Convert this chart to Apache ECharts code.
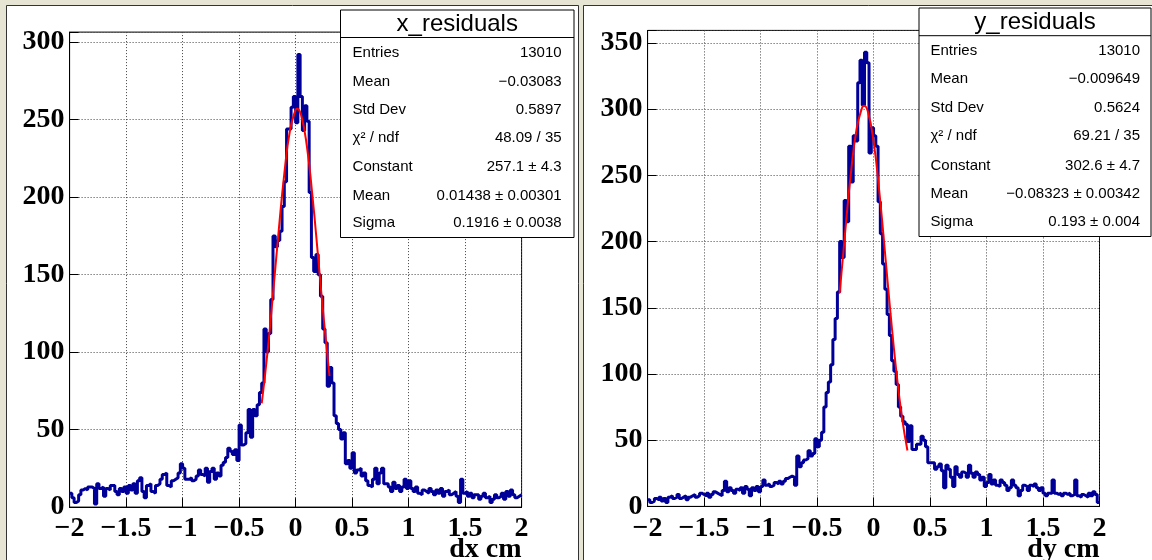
<!DOCTYPE html>
<html>
<head>
<meta charset="utf-8">
<script src="https://cdn.jsdelivr.net/npm/echarts@6/dist/echarts.min.js"></script>
<style>
  html, body { margin: 0; padding: 0; background: #e6e4d2; }
  #chart { width: 1152px; height: 560px; }
</style>
</head>
<body>
<div id="chart"></div>
<script>
// ---------------- data ----------------
const BIN_LOW = -2, BIN_HIGH = 2, BIN_WIDTH = 0.02;

const dxCounts = [
  9, 6, 3, 4, 8, 11, 12, 11, 13, 13,
  12, 2, 15, 12, 13, 7, 12, 11, 14, 14,
  10, 8, 12, 10, 13, 9, 14, 11, 15, 9,
  17, 19, 10, 6, 14, 15, 10, 9, 14, 15,
  18, 21, 22, 14, 13, 17, 18, 19, 22, 28,
  25, 18, 18, 19, 17, 18, 20, 24, 21, 20,
  25, 16, 23, 25, 18, 22, 20, 27, 29, 32,
  38, 36, 34, 37, 30, 53, 40, 41, 48, 63,
  45, 63, 59, 66, 74, 80, 115, 100, 112, 134,
  175, 168, 172, 178, 194, 210, 244, 244, 258, 265,
  248, 292, 265, 243, 259, 249, 203, 161, 152, 163,
  150, 136, 115, 106, 78, 90, 80, 59, 54, 50,
  44, 48, 28, 30, 25, 35, 22, 24, 25, 20,
  22, 17, 14, 13, 18, 25, 15, 22, 25, 15,
  15, 13, 10, 16, 12, 14, 10, 13, 18, 12,
  17, 12, 10, 13, 9, 8, 11, 10, 9, 12,
  10, 8, 11, 9, 12, 7, 10, 11, 8, 9,
  10, 7, 3, 18, 9, 10, 7, 9, 6, 8,
  8, 5, 7, 9, 6, 7, 3, 5, 8, 6,
  7, 9, 5, 10, 7, 11, 8, 6, 7, 8
];

const dyCounts = [
  5, 3, 4, 6, 5, 7, 4, 6, 3, 7,
  8, 6, 7, 9, 6, 7, 8, 5, 7, 8,
  9, 7, 8, 10, 9, 8, 10, 7, 9, 11,
  10, 9, 8, 12, 19, 11, 14, 12, 10, 13,
  12, 14, 10, 15, 13, 8, 14, 12, 15, 11,
  15, 20, 16, 17, 15, 16, 18, 17, 19, 17,
  19, 21, 22, 23, 22, 16, 38, 30, 33, 35,
  36, 42, 38, 40, 51, 45, 50, 56, 75, 86,
  94, 107, 126, 142, 162, 200, 188, 231, 215, 272,
  245, 280, 276, 320, 337, 303, 343, 335, 267, 286,
  280, 272, 230, 206, 183, 164, 145, 129, 110, 102,
  92, 75, 68, 64, 62, 49, 61, 43, 43, 47,
  47, 53, 50, 45, 33, 33, 33, 28, 30, 32,
  27, 14, 31, 28, 22, 15, 30, 24, 22, 26,
  25, 22, 31, 25, 22, 26, 24, 20, 22, 15,
  18, 24, 17, 20, 16, 15, 20, 18, 16, 12,
  14, 20, 16, 14, 8, 12, 16, 15, 12, 16,
  15, 17, 14, 12, 14, 10, 8, 10, 10, 20,
  10, 9, 10, 8, 10, 9, 10, 8, 9, 20,
  8, 7, 9, 8, 7, 10, 8, 11, 9, 3
];

// fitted Gaussian curves (x, y)
const dxFitX = [-0.30, -0.25, -0.20, -0.15, -0.10, -0.05, 0.00, 0.0144, 0.05, 0.10, 0.15, 0.20, 0.25, 0.30];
const dxFitY = [67, 99, 137.5, 178, 215, 243, 256.4, 257.1, 252.7, 232.7, 200, 160.8, 120.7, 84.6];
const dyFitX = [-0.30, -0.25, -0.20, -0.15, -0.10, -0.083, -0.05, 0.00, 0.05, 0.10, 0.15, 0.20, 0.25, 0.30];
const dyFitY = [161, 208.4, 252, 285, 301.5, 302.6, 298.2, 275.8, 238.5, 192.9, 145.9, 103.2, 68.2, 42.2];

const xTicks = [-2, -1.5, -1, -0.5, 0, 0.5, 1, 1.5, 2];
const dxYMax = 306.5, dyYMax = 359.5;

const dxStats = {
  title: 'x_residuals',
  labels: ['Entries', 'Mean', 'Std Dev', 'χ² / ndf', 'Constant', 'Mean', 'Sigma'],
  values: ['13010', '−0.03083', '0.5897', '48.09 / 35', '257.1 ± 4.3', '0.01438 ± 0.00301', '0.1916 ± 0.0038']
};
const dyStats = {
  title: 'y_residuals',
  labels: ['Entries', 'Mean', 'Std Dev', 'χ² / ndf', 'Constant', 'Mean', 'Sigma'],
  values: ['13010', '−0.009649', '0.5624', '69.21 / 35', '302.6 ± 4.7', '−0.08323 ± 0.00342', '0.193 ± 0.004']
};
const axisTitles = ['dx cm', 'dy cm'];

// ---------------- build ----------------
function histPairs(counts) {
  const pts = counts.map((c, i) => [+(BIN_LOW + i * BIN_WIDTH).toFixed(4), c]);
  pts.push([BIN_HIGH, counts[counts.length - 1]]);
  return pts;
}
function zip(xs, ys) { return xs.map((x, i) => [x, ys[i]]); }

const SERIF = '"Liberation Serif", "DejaVu Serif", serif';
const SANS = '"Liberation Sans", Arial, sans-serif';

function fmtNum(v) {
  return String(v).replace('-', '\u2212');
}

function xAxisCfg(gi) {
  return {
    type: 'value', gridIndex: gi, min: -2, max: 2, interval: 0.5,
    axisLine: { show: true, onZero: false, lineStyle: { color: '#000', width: 1 } },
    axisTick: { show: true, inside: true, length: 9, lineStyle: { color: '#000', width: 1 } },
    splitLine: { show: true, lineStyle: { color: '#444', width: 1, type: [1, 2] } },
    axisLabel: {
      show: true, margin: 8, color: '#000', fontFamily: SERIF, fontWeight: 'bold', fontSize: 28,
      formatter: v => (xTicks.indexOf(+v.toFixed(2)) >= 0 ? fmtNum(+v.toFixed(2)) : '')
    }
  };
}
function yAxisCfg(gi, max) {
  return {
    type: 'value', gridIndex: gi, min: 0, max: max, interval: 50,
    axisLine: { show: true, onZero: false, lineStyle: { color: '#000', width: 1 } },
    axisTick: { show: true, inside: true, length: 9, lineStyle: { color: '#000', width: 1 } },
    splitLine: { show: true, lineStyle: { color: '#444', width: 1, type: [1, 2] } },
    axisLabel: {
      show: true, margin: 5, color: '#000', fontFamily: SERIF, fontWeight: 'bold', fontSize: 28,
      formatter: v => (Math.abs(v % 50) < 1e-6 ? String(v) : '')
    }
  };
}

function statsBox(st, box) {
  const els = [];
  els.push({
    type: 'rect', z: 50,
    shape: { x: box.x, y: box.y, width: box.w, height: box.h },
    style: { fill: '#fff', stroke: '#000', lineWidth: 1 }
  });
  els.push({
    type: 'line', z: 51,
    shape: { x1: box.x, y1: box.sep, x2: box.x + box.w, y2: box.sep },
    style: { stroke: '#000', lineWidth: 1 }
  });
  els.push({
    type: 'text', z: 52,
    style: {
      text: st.title, x: box.x + box.w / 2, y: (box.y + box.sep) / 2 + 1,
      font: '24px ' + SANS, fill: '#000', textAlign: 'center', textVerticalAlign: 'middle'
    }
  });
  st.labels.forEach((lab, i) => {
    els.push({
      type: 'text', z: 52,
      style: {
        text: lab, x: box.lx, y: box.rows[i], font: '15px ' + SANS, fill: '#000',
        textAlign: 'left', textVerticalAlign: 'middle'
      }
    });
    els.push({
      type: 'text', z: 52,
      style: {
        text: st.values[i], x: box.rx, y: box.rows[i], font: '15px ' + SANS, fill: '#000',
        textAlign: 'right', textVerticalAlign: 'middle'
      }
    });
  });
  return els;
}

const graphics = [
  { type: 'rect', z: -10, shape: { x: 6.5, y: 5.5, width: 572, height: 560 },
    style: { fill: '#fff', stroke: '#333', lineWidth: 1 } },
  { type: 'rect', z: -10, shape: { x: 583.5, y: 5.5, width: 575, height: 560 },
    style: { fill: '#fff', stroke: '#333', lineWidth: 1 } },
  ...statsBox(dxStats, { x: 340.5, y: 10, w: 233.5, h: 227.5, sep: 37.5, lx: 352.6, rx: 561.6,
    rows: [52.9, 81.4, 110, 137.5, 167, 195.7, 223.2] }),
  ...statsBox(dyStats, { x: 919, y: 8, w: 232, h: 228.5, sep: 35.7, lx: 930.5, rx: 1140,
    rows: [51, 79.3, 108.2, 135.7, 165.4, 194, 221.4] }),
  { type: 'text', z: 20, style: { text: axisTitles[0], x: 521.6, y: 564, font: 'bold 28px ' + SERIF,
    fill: '#000', textAlign: 'right', textVerticalAlign: 'bottom' } },
  { type: 'text', z: 20, style: { text: axisTitles[1], x: 1099.5, y: 564, font: 'bold 28px ' + SERIF,
    fill: '#000', textAlign: 'right', textVerticalAlign: 'bottom' } }
];

const chart = echarts.init(document.getElementById('chart'), null, { renderer: 'canvas' });
chart.setOption({
  animation: false,
  backgroundColor: '#e6e4d2',
  grid: [
    { left: 69.6, top: 32.1, width: 452, height: 475, show: true, borderColor: '#000', borderWidth: 1, backgroundColor: 'transparent' },
    { left: 647.6, top: 30.4, width: 451.9, height: 476, show: true, borderColor: '#000', borderWidth: 1, backgroundColor: 'transparent' }
  ],
  xAxis: [xAxisCfg(0), xAxisCfg(1)],
  yAxis: [yAxisCfg(0, dxYMax), yAxisCfg(1, dyYMax)],
  series: [
    { type: 'line', xAxisIndex: 0, yAxisIndex: 0, step: 'end', showSymbol: false, symbol: 'none',
      data: histPairs(dxCounts), lineStyle: { color: '#000099', width: 3 }, z: 3 },
    { type: 'line', xAxisIndex: 0, yAxisIndex: 0, smooth: true, showSymbol: false, symbol: 'none',
      data: zip(dxFitX, dxFitY), lineStyle: { color: '#ff0000', width: 2 }, z: 4 },
    { type: 'line', xAxisIndex: 1, yAxisIndex: 1, step: 'end', showSymbol: false, symbol: 'none',
      data: histPairs(dyCounts), lineStyle: { color: '#000099', width: 3 }, z: 3 },
    { type: 'line', xAxisIndex: 1, yAxisIndex: 1, smooth: true, showSymbol: false, symbol: 'none',
      data: zip(dyFitX, dyFitY), lineStyle: { color: '#ff0000', width: 2 }, z: 4 }
  ],
  graphic: graphics
});
</script>
</body>
</html>
